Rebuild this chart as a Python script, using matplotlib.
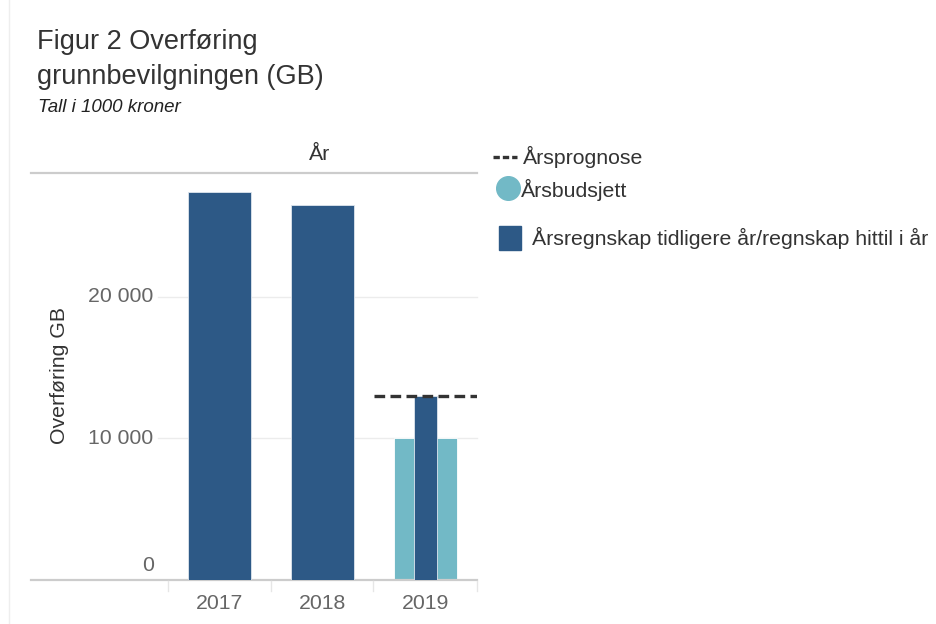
import matplotlib
matplotlib.use("Agg")
import matplotlib.pyplot as plt
from matplotlib.lines import Line2D
import numpy as np

plt.rcParams['font.family'] = ['Liberation Sans', 'DejaVu Sans']

years = ['2017', '2018', '2019']
regnskap = [27400, 26500, 13000]
budsjett = [np.nan, np.nan, 10000]
prognose = [np.nan, np.nan, 13000]
yticks = [0, 10000, 20000]
ytick_labels = ['0', '10 000', '20 000']

DARK = '#2d5986'
LIGHT = '#72b9c6'
FS = 15.3
W, H = 937, 624
fig = plt.figure(figsize=(W / 100, H / 100), dpi=100)

# axes in pixel coordinates: left 168, right 477, top 173, bottom 580
L, R, T, B = 168, 477, 173, 580
ax = fig.add_axes([L / W, 1 - B / H, (R - L) / W, (B - T) / H])
x = np.arange(len(years))
ax.set_xlim(-0.5, 2.5)
ax.set_ylim(0, 28760)

# gridlines
for yt in yticks[1:]:
    ax.axhline(yt, xmin=-10 / (R - L), xmax=1, color='#ececec', lw=1, clip_on=False, zorder=0)

# budget bars (light)
ax.bar(x, budsjett, width=0.61, color=LIGHT, edgecolor='white', linewidth=0.6, zorder=2)
# accounts bars (dark); 2019 narrower
widths = [0.61, 0.61, 0.22]
ax.bar(x, regnskap, width=widths, color=DARK, edgecolor='#dfe6ee', linewidth=0.6, zorder=3)
# forecast dashed
for i, v in enumerate(prognose):
    if not np.isnan(v):
        ax.hlines(v, i - 0.5, i + 0.5, colors='#333333', linestyles=(0, (3.2, 1.6)), lw=2.4, zorder=4)

for s in ax.spines.values():
    s.set_visible(False)
ax.set_xticks(x)
ax.set_xticklabels(years, fontsize=FS, color='#666666')
ax.tick_params(axis='x', length=0, pad=10)
ax.set_yticks([])

# y tick labels (0 label raised above axis line as in the reference)
for yt, lab in zip(yticks, ytick_labels):
    yy = yt if yt > 0 else 1050
    ax.text(-0.64, yy, lab, ha='right', va='center', fontsize=FS, color='#666666')

# top and bottom lines extending to the left
ax.axhline(28760, xmin=-(L - 31) / (R - L), xmax=1, color='#cccccc', lw=1.6, clip_on=False)
ax.axhline(0, xmin=-(L - 31) / (R - L), xmax=1, color='#cccccc', lw=1.6, clip_on=False)
# column separators
for px in [168, 271, 373, 477]:
    fig.add_artist(Line2D([px / W, px / W], [1 - 581 / H, 1 - 591 / H], color='#e6e6e6', lw=1))

# y label
fig.text(60 / W, 1 - 375 / H, 'Overføring GB', rotation=90, ha='center', va='center',
         fontsize=FS, color='#333333')
# column header
fig.text(320 / W, 1 - 155 / H, 'År', ha='center', va='center', fontsize=FS, color='#333333')

# titles
fig.text(37 / W, 1 - 42 / H, 'Figur 2 Overføring', ha='left', va='center', fontsize=19.5, color='#333333')
fig.text(37 / W, 1 - 77 / H, 'grunnbevilgningen (GB)', ha='left', va='center', fontsize=19.5, color='#333333')
fig.text(38 / W, 1 - 107 / H, 'Tall i 1000 kroner', ha='left', va='center', fontsize=13.5, style='italic', color='#222222')

# page border line
fig.add_artist(Line2D([9 / W, 9 / W], [0, 1], color='#eeeeee', lw=1))

# legend (manual)
fig.add_artist(Line2D([493 / W, 517 / W], [1 - 157 / H] * 2, color='#333333', lw=2.4, linestyle=(0, (1.9, 0.9))))
fig.text(523 / W, 1 - 157 / H, 'Årsprognose', ha='left', va='center', fontsize=FS, color='#333333')
fig.add_artist(Line2D([508 / W], [1 - 188 / H], marker='o', markersize=17, color=LIGHT, linestyle='none'))
fig.text(521 / W, 1 - 190 / H, 'Årsbudsjett', ha='left', va='center', fontsize=FS, color='#333333')
fig.add_artist(plt.Rectangle((499 / W, 1 - 250 / H), 22 / W, 24 / H, color=DARK, transform=fig.transFigure))
fig.text(532 / W, 1 - 238 / H, 'Årsregnskap tidligere år/regnskap hittil i år', ha='left', va='center',
         fontsize=FS, color='#333333')

fig.savefig('out.png', dpi=100, facecolor='white')
